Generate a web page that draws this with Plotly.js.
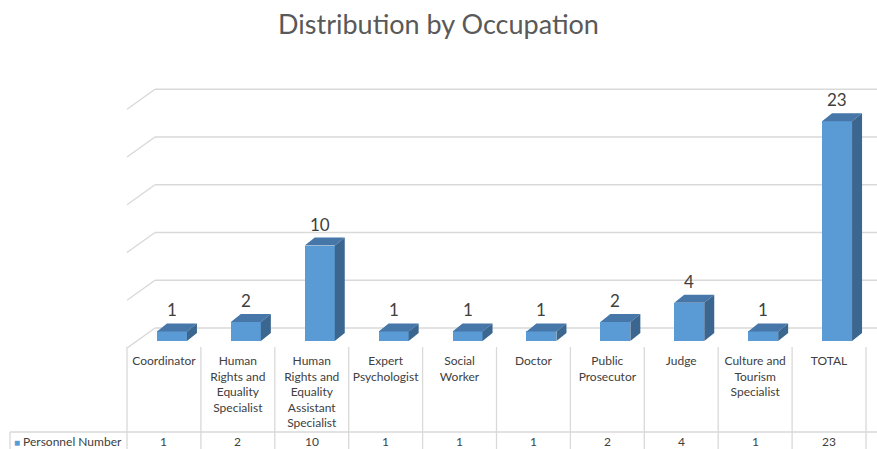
<!DOCTYPE html>
<html>
<head>
<meta charset="utf-8">
<script src="https://cdn.plot.ly/plotly-3.0.1.min.js"></script>
<style>html,body{margin:0;padding:0;background:#fff;}#chart{width:877px;height:449px;}</style>
</head>
<body>
<div id="chart"></div>
<script>
// ---- data ----
const categories = ['Coordinator', 'Human Rights and Equality Specialist', 'Human Rights and Equality Assistant Specialist', 'Expert Psychologist', 'Social Worker', 'Doctor', 'Public Prosecutor', 'Judge', 'Culture and Tourism Specialist', 'TOTAL'];
const tickLabels = ['Coordinator', 'Human<br>Rights and<br>Equality<br>Specialist', 'Human<br>Rights and<br>Equality<br>Assistant<br>Specialist', 'Expert<br>Psychologist', 'Social<br>Worker', 'Doctor', 'Public<br>Prosecutor', 'Judge', 'Culture and<br>Tourism<br>Specialist', 'TOTAL'];
const personnel = [1, 2, 10, 1, 1, 1, 2, 4, 1, 23];
const seriesName = 'Personnel Number';
const gridValues = [0, 5, 10, 15, 20, 25];
const chartTitle = 'Distribution by Occupation';

// ---- geometry (pixels -> axis units) ----
const W = 877, H = 449;
const L = 118, T = 80, B = 348;          // plot area pixel edges
const pxCat = 73.9, pxUnit = 9.55;       // pixels per category / per value unit
const colLeftPx = 127, basePx = 341;
const xRange = [-0.5 - (colLeftPx - L) / pxCat, -0.5 + (W - colLeftPx) / pxCat];
const yRange = [-(B - basePx) / pxUnit, (basePx - T) / pxUnit];
const barW = 30 / pxCat, barOff = -7 / pxCat;
const dDx = 10 / pxCat, dDy = 8 / pxUnit;
const wallBackDx = 28 / pxCat, wallBackDy = 13 / pxUnit, wallFrontDy = -7 / pxUnit;
const paperY = px => (B - px) / (B - T);

const idx = categories.map((c, i) => i);

const topX = [], topY = [], sideX = [], sideY = [];
personnel.forEach((v, i) => {
  const xl = i + barOff, xr = xl + barW;
  topX.push(xl, xr, xr + dDx, xl + dDx, xl, null);
  topY.push(v, v, v + dDy, v + dDy, v, null);
  sideX.push(xr, xr + dDx, xr + dDx, xr, xr, null);
  sideY.push(0, dDy, v + dDy, v, 0, null);
});

const traces = [
  {type: 'bar', x: idx, y: personnel, name: seriesName, width: barW, offset: barOff,
   marker: {color: '#5b9bd5', line: {width: 0}}, showlegend: false, hoverinfo: 'x+y'},
  {type: 'scatter', mode: 'lines', x: topX, y: topY, fill: 'toself', fillcolor: '#4677a8',
   line: {width: 0, color: '#4677a8'}, showlegend: false, hoverinfo: 'skip'},
  {type: 'scatter', mode: 'lines', x: sideX, y: sideY, fill: 'toself', fillcolor: '#3a6690',
   line: {width: 0, color: '#3a6690'}, showlegend: false, hoverinfo: 'skip'}
];

const gridColor = '#d9d9d9';
const shapes = [];
gridValues.forEach(v => {
  const yb = v + wallBackDy, yf = v + wallFrontDy;
  shapes.push({type: 'line', layer: 'below', xref: 'x', yref: 'y', x0: -0.5, y0: yf, x1: -0.5 + wallBackDx, y1: yb, line: {color: gridColor, width: 1.5}});
  shapes.push({type: 'line', layer: 'below', xref: 'x', yref: 'y', x0: -0.5 + wallBackDx, y0: yb, x1: xRange[1], y1: yb, line: {color: gridColor, width: 1.5}});
});
// table column borders
for (let k = 0; k <= categories.length; k++) {
  shapes.push({type: 'line', layer: 'below', xref: 'x', yref: 'paper', x0: k - 0.5, x1: k - 0.5, y0: paperY(347), y1: paperY(452), line: {color: gridColor, width: 1.3}});
}
// value row borders
const paperX = px => (px - L) / (W - L);
shapes.push({type: 'line', xref: 'paper', yref: 'paper', x0: paperX(10), x1: paperX(W), y0: paperY(432), y1: paperY(432), line: {color: gridColor, width: 1.3}});
shapes.push({type: 'line', xref: 'paper', yref: 'paper', x0: paperX(10), x1: paperX(10), y0: paperY(432), y1: paperY(452), line: {color: gridColor, width: 1.3}});

const annotations = [];
personnel.forEach((v, i) => {
  annotations.push({xref: 'x', yref: 'y', x: i + barOff + barW / 2, y: v + dDy, yanchor: 'bottom', xanchor: 'center',
    yshift: 1, showarrow: false, text: String(v), font: {family: 'Lato, sans-serif', size: 17, color: '#404040'}});
  annotations.push({xref: 'x', yref: 'paper', x: i, y: paperY(441), yanchor: 'middle', xanchor: 'center',
    showarrow: false, text: String(v), font: {family: 'Lato, sans-serif', size: 12, color: '#404040'}});
});
annotations.push({xref: 'paper', yref: 'paper', x: paperX(12), y: paperY(441), xanchor: 'left', yanchor: 'middle', showarrow: false,
  text: '<span style="color:#5b9bd5;font-size:10px">■</span> ' + seriesName, font: {family: 'Lato, sans-serif', size: 12, color: '#404040'}});

const layout = {
  width: W, height: H,
  margin: {l: L, r: 0, t: T, b: H - B, pad: 0},
  paper_bgcolor: '#ffffff', plot_bgcolor: 'rgba(0,0,0,0)',
  title: {text: chartTitle, x: 0.5, xanchor: 'center', xref: 'container', y: 1 - 25 / H, yanchor: 'middle', yref: 'container',
    font: {family: 'Lato, sans-serif', size: 27, color: '#595959'}},
  xaxis: {range: xRange, tickvals: idx, ticktext: tickLabels, showgrid: false, zeroline: false, showline: false,
    ticks: '', ticklabelstandoff: 4, fixedrange: true, tickfont: {family: 'Lato, sans-serif', size: 12, color: '#404040'}},
  yaxis: {range: yRange, showgrid: false, zeroline: false, showline: false, showticklabels: false, ticks: '', fixedrange: true},
  shapes: shapes, annotations: annotations, showlegend: false, bargap: 0
};

Plotly.newPlot('chart', traces, layout, {displayModeBar: false, staticPlot: true});
</script>
</body>
</html>
